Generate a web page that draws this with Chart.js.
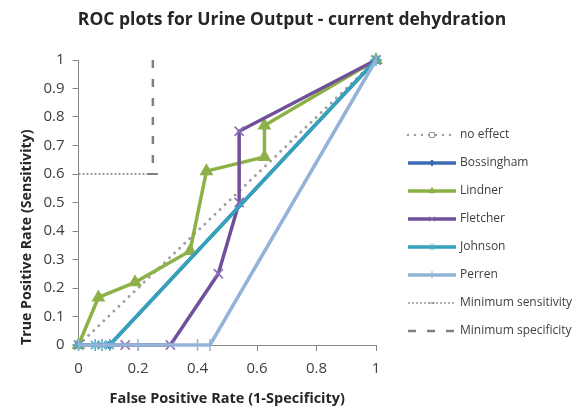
<!DOCTYPE html>
<html>
<head>
<meta charset="utf-8">
<script src="https://cdn.jsdelivr.net/npm/chart.js@4"></script>
<style>
html, body { margin: 0; padding: 0; background: #fff; }
#caja { width: 584px; height: 408px; position: relative; }
</style>
</head>
<body>
<div id="caja"><canvas id="grafica"></canvas></div>
<script>
const $grafica = document.querySelector("#grafica");

// datos
const noEffectX = [0, 1];
const noEffectY = [0, 1];
const bossinghamX = [0, 0.105, 1];
const bossinghamY = [0, 0, 1];
const lindnerX = [0, 0.067, 0.19, 0.375, 0.43, 0.625, 0.625, 1];
const lindnerY = [0, 0.167, 0.22, 0.33, 0.61, 0.66, 0.77, 1];
const fletcherX = [0, 0.157, 0.309, 0.47, 0.54, 0.54, 1];
const fletcherY = [0, 0, 0, 0.25, 0.5, 0.75, 1];
const johnsonX = [0, 0.056, 0.079, 0.105, 1];
const johnsonY = [0, 0, 0, 0, 1];
const perrenX = [0, 0.2, 0.4, 0.442, 1];
const perrenY = [0, 0, 0, 0, 1];
const minSensX = [0, 0.25];
const minSensY = [0.6, 0.6];
const minSpecX = [0.25, 0.25];
const minSpecY = [1, 0.6];

const ticksX = [0, 0.2, 0.4, 0.6, 0.8, 1];
const etiquetasX = ['0', '0.2', '0.4', '0.6', '0.8', '1'];
const ticksY = [0, 0.1, 0.2, 0.3, 0.4, 0.5, 0.6, 0.7, 0.8, 0.9, 1];
const etiquetasY = ['0', '0.1', '0.2', '0.3', '0.4', '0.5', '0.6', '0.7', '0.8', '0.9', '1'];

const puntos = (xs, ys) => xs.map((x, i) => ({ x: x, y: ys[i] }));

const series = [
    { label: 'no effect', data: puntos(noEffectX, noEffectY), borderColor: '#A0A0A0', borderWidth: 3,
      borderDash: [0, 7], borderCapStyle: 'round', pointStyle: 'rect', pointRadius: 0,
      pointBackgroundColor: '#fff', pointBorderColor: '#999', legendRadius: 3.5, legendWidth: 2.5 },
    { label: 'Bossingham', data: puntos(bossinghamX, bossinghamY), borderColor: '#3F6DB3', borderWidth: 3.5,
      pointStyle: 'rectRot', pointRadius: 4, pointBackgroundColor: '#3F6DB3', pointBorderColor: '#3F6DB3',
      legendRadius: 3, legendWidth: 3.5 },
    { label: 'Lindner', data: puntos(lindnerX, lindnerY), borderColor: '#8DB148', borderWidth: 3.5,
      pointStyle: 'triangle', pointRadius: 6.5, pointBackgroundColor: '#8DB148', pointBorderColor: '#8DB148',
      legendRadius: 3.5, legendWidth: 3.5 },
    { label: 'Fletcher', data: puntos(fletcherX, fletcherY), borderColor: '#71509A', borderWidth: 3.5,
      pointStyle: 'crossRot', pointRadius: 6.5, pointBackgroundColor: '#8A6DB5', pointBorderColor: '#8A6DB5',
      legendRadius: 3.5, legendWidth: 3.5 },
    { label: 'Johnson', data: puntos(johnsonX, johnsonY), borderColor: '#35A2BA', borderWidth: 3.5,
      pointStyle: 'star', pointRadius: 6, pointBackgroundColor: '#4BACC6', pointBorderColor: '#4BACC6',
      legendRadius: 3.5, legendWidth: 3.5 },
    { label: 'Perren', data: puntos(perrenX, perrenY), borderColor: '#95B3D7', borderWidth: 3.5,
      pointStyle: 'line', pointRotation: 90, pointRadius: 6, pointBackgroundColor: '#95B3D7', pointBorderColor: '#95B3D7',
      legendRadius: 4, legendWidth: 3.5 },
    { label: 'Minimum sensitivity', data: puntos(minSensX, minSensY), borderColor: '#999999', borderWidth: 2,
      borderDash: [2, 2], pointStyle: 'line', pointRadius: [0, 5], pointBackgroundColor: '#888', pointBorderColor: '#888',
      legendRadius: 3, legendWidth: 1.5 },
    { label: 'Minimum specificity', data: puntos(minSpecX, minSpecY), borderColor: '#808080', borderWidth: 2.5,
      borderDash: [8, 11], pointStyle: 'line', pointRadius: [0, 5], pointBackgroundColor: '#777', pointBorderColor: '#777',
      legendRadius: 3, legendWidth: 2.5 },
];

const total = series.length;
series.forEach((s, i) => {
    s.showLine = true;
    s.fill = false;
    s.clip = false;
    s.tension = 0;
    s.pointBorderWidth = 1.5;
    s.pointHoverRadius = 0;
    s.order = total - i; // las ultimas series encima
});

// reserva el hueco de la leyenda a la derecha (el titulo sigue centrado en todo el ancho)
const reserva = {
    id: 'reserva',
    beforeInit(chart) {
        Chart.layouts.addBox(chart, {
            position: 'right', weight: 0, fullSize: false, options: {},
            left: 0, top: 0, right: 0, bottom: 0, width: 0, height: 0,
            update(maxWidth, maxHeight) { this.width = 208; this.height = maxHeight; },
            isHorizontal() { return false; },
            getPadding() { return { left: 0, top: 0, right: 0, bottom: 0 }; },
            draw() {}
        });
    }
};

// leyenda a la derecha, como en Excel
const leyenda = {
    id: 'leyenda',
    afterDraw(chart) {
        const ctx = chart.ctx;
        chart.data.datasets.forEach((ds, i) => {
            const y = 135 + i * 28;
            ctx.save();
            ctx.strokeStyle = ds.borderColor;
            ctx.lineWidth = ds.legendWidth;
            ctx.lineCap = ds.borderCapStyle || 'butt';
            ctx.setLineDash(ds.borderDash || []);
            ctx.beginPath();
            ctx.moveTo(408, y);
            ctx.lineTo(456, y);
            ctx.stroke();
            ctx.setLineDash([]);
            ctx.lineCap = 'butt';
            ctx.fillStyle = ds.pointBackgroundColor;
            ctx.strokeStyle = ds.pointBorderColor;
            ctx.lineWidth = 1;
            Chart.helpers.drawPoint(ctx, {
                pointStyle: ds.pointStyle, rotation: ds.pointRotation || 0,
                radius: ds.legendRadius, borderWidth: 1
            }, 432, y);
            ctx.fillStyle = '#404040';
            ctx.font = '12px "Open Sans"';
            ctx.textBaseline = 'middle';
            ctx.textAlign = 'left';
            ctx.fillText(ds.label, 460, y);
            ctx.restore();
        });
    }
};

new Chart($grafica, {
    type: 'scatter',
    data: { datasets: series },
    options: {
        responsive: true,
        maintainAspectRatio: false,
        animation: false,
        events: [],
        layout: { padding: 0 },
        plugins: {
            legend: { display: false },
            tooltip: { enabled: false },
            title: {
                display: true,
                text: 'ROC plots for Urine Output - current dehydration',
                color: '#262626',
                font: { family: 'Open Sans', size: 17.5, weight: 'bold' },
                padding: { top: 10, bottom: 29 }
            }
        },
        scales: {
            x: {
                type: 'linear', min: 0, max: 1,
                afterBuildTicks: s => { s.ticks = ticksX.map(v => ({ value: v })); },
                afterFit: s => { s.height = 63; },
                border: { color: '#868686', width: 1 },
                grid: { drawOnChartArea: false, drawTicks: true, tickLength: 6, color: '#868686' },
                ticks: { color: '#404040', padding: 9, font: { family: 'Open Sans', size: 15 },
                    callback: (v, i) => etiquetasX[i] },
                title: { display: true, text: 'False Positive Rate (1-Specificity)', color: '#262626',
                    font: { family: 'Open Sans', size: 14.5, weight: 'bold' }, padding: { top: 0, bottom: 0 } }
            },
            y: {
                type: 'linear', min: 0, max: 1,
                afterBuildTicks: s => { s.ticks = ticksY.map(v => ({ value: v })); },
                afterFit: s => { s.width = 78.5; },
                border: { color: '#868686', width: 1 },
                grid: { drawOnChartArea: false, drawTicks: true, tickLength: 6, color: '#868686' },
                ticks: { color: '#404040', padding: 8, font: { family: 'Open Sans', size: 15 },
                    callback: (v, i) => etiquetasY[i] },
                title: { display: true, text: 'True Positive Rate (Sensitivity)', color: '#262626', align: 'start',
                    font: { family: 'Open Sans', size: 14.2, weight: 'bold' }, padding: { top: 18, bottom: 0 } }
            }
        }
    },
    plugins: [reserva, leyenda]
});
</script>
</body>
</html>
